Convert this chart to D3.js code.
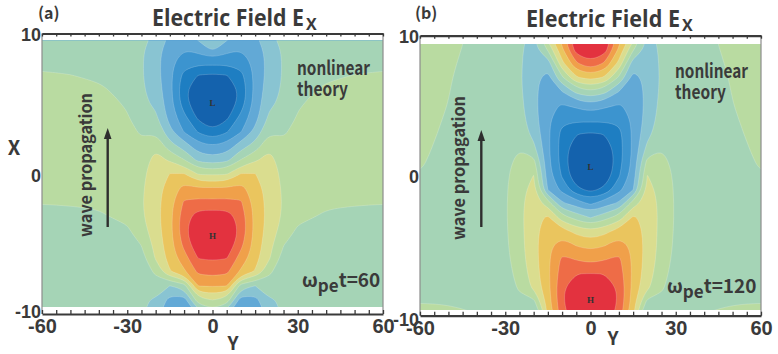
<!DOCTYPE html>
<html>
<head>
<meta charset="utf-8">
<script src="https://cdn.jsdelivr.net/npm/d3@7"></script>
<style>
  html, body { margin: 0; padding: 0; background: #fff; }
  svg { display: block; font-family: "Noto Sans CJK JP", "Open Sans", sans-serif; }
</style>
</head>
<body>
<svg id="chart" width="778" height="354"></svg>
<script>
// Sample grid: columns are Y >= 0 (the field is mirror-symmetric about Y = 0),
// rows are X from +10 down to -10. Values are in units of one contour step.
const yHalf = [0, 5, 10, 15, 20, 25, 30, 40, 50, 60, 70];
const xRows = [10, 9, 8, 7, 6, 5, 4, 3, 2, 1, 0, -1, -2, -3, -4, -5, -6, -7, -8, -9, -10];
const levels = [-5, -4, -3, -2, -1, 0, 1, 2, 3, 4, 5];
const bandColors = ["#1462ad", "#1e7ec2", "#3c94cf", "#62a9d6", "#89c4d2", "#a5d4b6",
                    "#b9dba1", "#dadd8f", "#eac55e", "#f0a04a", "#ee6c47", "#e3323f"];
const yTickValues = [-60, -30, 0, 30, 60];
const xTickValues = [-10, 0, 10];

// Panel (a): omega_pe t = 60, one column per entry of yHalf
const exA = [
  [-0.2, -1.64, -3.56, -5.2, -5.8, -6.3, -5.75, -4.9, -3.0, -1.6, 0.8, 3.06, 4.22, 5.5, 6.15, 5.95, 5.15, 4.34, 3.1, 1.0, -0.6],
  [-1.5, -2.5, -3.65, -5.05, -5.95, -6.0, -5.2, -4.1, -2.64, -1.31, 0.9, 3.0, 4.3, 5.45, 6.05, 5.9, 5.05, 4.2, 3.0, 0.6, -1.8],
  [-2.2, -2.9, -3.55, -4.3, -4.75, -4.5, -3.7, -3.05, -1.5, 0.02, 2.02, 3.3, 4.1, 4.55, 4.7, 4.3, 3.6, 2.8, -0.5, -2.5, -3.3],
  [-2.02, -2.55, -2.7, -2.75, -2.7, -2.6, -2.35, -1.7, -0.6, 0.85, 2.02, 2.4, 2.6, 2.7, 2.7, 2.6, 2.4, 1.9, -1.02, -2.35, -3.25],
  [-1.1, -1.5, -1.65, -1.6, -1.45, -1.2, -0.8, -0.15, 0.8, 1.3, 1.5, 1.6, 1.65, 1.65, 1.55, 1.35, 1.1, 0.2, -0.5, -1.1, -1.3],
  [-0.7, -0.85, -0.9, -0.9, -0.85, -0.75, -0.5, -0.15, 0.25, 0.55, 0.75, 0.85, 0.9, 0.85, 0.6, 0.05, -0.4, -0.7, -0.85, -0.9, -0.9],
  [-0.7, -0.7, -0.65, -0.5, -0.3, -0.12, 0.08, 0.35, 0.6, 0.75, 0.8, 0.7, 0.5, 0.2, -0.12, -0.4, -0.55, -0.65, -0.7, -0.7, -0.7],
  [-0.6, -0.55, -0.4, -0.15, 0.15, 0.45, 0.62, 0.7, 0.65, 0.55, 0.4, 0.25, 0.1, -0.08, -0.25, -0.4, -0.5, -0.55, -0.55, -0.55, -0.55],
  [-0.55, -0.45, -0.25, 0.02, 0.3, 0.5, 0.6, 0.65, 0.6, 0.5, 0.35, 0.2, 0.05, -0.12, -0.27, -0.38, -0.45, -0.5, -0.5, -0.5, -0.5],
  [-0.5, -0.4, -0.2, 0.1, 0.3, 0.45, 0.55, 0.6, 0.55, 0.45, 0.3, 0.15, 0.02, -0.1, -0.25, -0.35, -0.4, -0.45, -0.45, -0.45, -0.45],
  [-0.5, -0.4, -0.2, 0.1, 0.3, 0.45, 0.55, 0.6, 0.55, 0.45, 0.3, 0.15, 0.02, -0.1, -0.25, -0.35, -0.4, -0.45, -0.45, -0.45, -0.45]
];

// Panel (b): omega_pe t = 120
const exB = [
  [6.3, 5.8, 4.8, 2.32, -0.15, -2.47, -3.76, -5.1, -5.6, -6.05, -6.1, -5.3, -3.12, -1.02, 1.31, 2.71, 3.68, 5.02, 5.85, 6.15, 6.0],
  [6.0, 5.5, 3.8, 1.87, -0.75, -2.83, -3.82, -4.95, -5.7, -6.0, -5.8, -4.7, -2.4, -0.33, 1.73, 2.98, 3.98, 4.98, 6.0, 6.1, 5.9],
  [3.5, 2.8, 1.67, -0.2, -2.02, -3.1, -3.8, -4.3, -4.4, -4.4, -4.1, -3.3, -1.8, 0.5, 2.5, 3.55, 4.2, 4.5, 4.8, 4.8, 4.5],
  [1.6, 0.1, -1.6, -2.3, -2.6, -2.75, -2.8, -2.8, -2.8, -2.7, -2.5, -2.02, 0.6, 2.2, 2.6, 2.75, 2.8, 2.8, 2.7, 2.5, 2.2],
  [-1.2, -1.4, -1.6, -1.75, -1.75, -1.7, -1.6, -1.3, -0.75, 0.3, 1.02, 1.3, 1.5, 1.6, 1.65, 1.65, 1.6, 1.45, 1.2, -0.3, -1.8],
  [-0.8, -0.85, -0.85, -0.85, -0.8, -0.7, -0.55, -0.35, -0.05, 0.3, 0.55, 0.7, 0.75, 0.75, 0.7, 0.65, 0.55, 0.4, 0.15, -0.3, -0.8],
  [-0.5, -0.55, -0.6, -0.6, -0.6, -0.6, -0.55, -0.5, -0.4, -0.3, -0.2, -0.15, -0.12, -0.12, -0.15, -0.2, -0.3, -0.45, -0.6, -0.7, -0.7],
  [-0.1, -0.15, -0.22, -0.28, -0.33, -0.37, -0.4, -0.42, -0.44, -0.45, -0.45, -0.45, -0.44, -0.42, -0.4, -0.37, -0.33, -0.28, -0.2, -0.1, 0.02],
  [0.15, 0.12, 0.09, 0.05, 0.02, -0.02, -0.08, -0.13, -0.18, -0.22, -0.26, -0.3, -0.32, -0.34, -0.34, -0.32, -0.28, -0.22, -0.15, -0.03, 0.12],
  [0.3, 0.35, 0.4, 0.4, 0.38, 0.33, 0.28, 0.2, 0.13, 0.06, -0.02, -0.1, -0.15, -0.2, -0.22, -0.22, -0.2, -0.16, -0.1, -0.01, 0.08],
  [0.3, 0.35, 0.4, 0.4, 0.38, 0.33, 0.28, 0.2, 0.13, 0.06, -0.02, -0.1, -0.15, -0.2, -0.22, -0.22, -0.2, -0.16, -0.1, -0.01, 0.08]
];

// Positions (in X) of the minimum "L" and maximum "H" on the Y = 0 axis
const extremaA = [{ label: "L", x: 5.05 }, { label: "H", x: -4.45 }];
const extremaB = [{ label: "L", x: 0.6 }, { label: "H", x: -8.85 }];
const timeA = "60";
const timeB = "120";

const ink = "#3a3a3a";
const svg = d3.select("#chart");
const defs = svg.append("defs");

// full column list -70 ... 70 built by mirroring the half grid
const yFull = yHalf.slice(1).reverse().map(v => -v).concat(yHalf);

function buildGrid(cols) {
  const colsFull = cols.slice(1).reverse().concat(cols);
  const nx = colsFull.length, ny = xRows.length;
  const values = new Array(nx * ny);
  for (let j = 0; j < ny; j++)
    for (let i = 0; i < nx; i++) values[j * nx + i] = colsFull[i][j];
  return { nx, ny, values };
}

const panels = [
  { id: "a", field: exA, extrema: extremaA, time: timeA,
    left: 42, right: 383, top: 33.5, bottom: 314, xMax: 9.5, xMin: -9.5,
    tag: [38, 19], title: [152, 25.5, 152], nl: [297, 75, 95.5],
    wp: [91.5, 165], arrow: [107.7, 227, 128], omega: [302, 286.5],
    yLab: [233, 350], xLab: [14, 155], leftLabelX: 41, leftDy: [3, 8, 6.5] },
  { id: "b", field: exB, extrema: extremaB, time: timeB,
    left: 420, right: 761, top: 35.7, bottom: 315.7, xMax: 9.4, xMin: -9.6,
    tag: [415, 18.5], title: [526, 26.5, 154], nl: [675, 78, 98.5],
    wp: [465, 168], arrow: [481.3, 227, 130], omega: [667, 293],
    yLab: [613, 345], xLab: null, leftLabelX: 419, leftDy: [10, 6.5, 7] }
];

panels.forEach(drawPanel);

function drawPanel(cfg) {
  const x = d3.scaleLinear().domain([-60, 60]).range([cfg.left, cfg.right]);
  const y = d3.scaleLinear().domain([-10, 10]).range([cfg.bottom, cfg.top]);
  const g = svg.append("g");

  // clip to the sampled region
  const clipId = "clip-" + cfg.id;
  defs.append("clipPath").attr("id", clipId).append("rect")
    .attr("x", x(-60)).attr("y", y(cfg.xMax))
    .attr("width", x(60) - x(-60)).attr("height", y(cfg.xMin) - y(cfg.xMax));

  // filled contours of E_x, each ring drawn as a smooth closed spline
  const { nx, ny, values } = buildGrid(cfg.field);
  const colToY = d3.scaleLinear().domain(d3.range(nx)).range(yFull);
  const rowToX = d3.scaleLinear().domain([0, ny - 1]).range([xRows[0], xRows[ny - 1]]);
  const bands = d3.contours().size([nx, ny]).thresholds(levels)(values);
  const ringLine = d3.line().curve(d3.curveBasisClosed);
  const ringPath = ring => ringLine(ring.slice(0, -1)
    .map(([cx, cy]) => [x(colToY(cx - 0.5)), y(rowToX(cy - 0.5))]));

  const field = g.append("g").attr("clip-path", `url(#${clipId})`);
  field.append("rect")
    .attr("x", x(-60)).attr("y", y(cfg.xMax))
    .attr("width", x(60) - x(-60)).attr("height", y(cfg.xMin) - y(cfg.xMax))
    .attr("fill", bandColors[0]);
  field.selectAll("path.band").data(bands).join("path")
    .attr("class", "band")
    .attr("d", c => c.coordinates.map(poly => poly.map(ringPath).join("")).join(""))
    .attr("fill", (c, i) => bandColors[i + 1])
    .attr("fill-rule", "evenodd")
    .attr("stroke", "#ffffff").attr("stroke-opacity", 0.3).attr("stroke-width", 0.6);

  // extremum markers
  g.selectAll("text.ext").data(cfg.extrema).join("text")
    .attr("class", "ext")
    .attr("x", x(0)).attr("y", d => y(d.x)).attr("dy", "0.35em")
    .attr("text-anchor", "middle")
    .attr("font-family", "'Liberation Serif', serif").attr("font-weight", "bold")
    .attr("font-size", 9).attr("fill", "#333")
    .text(d => d.label);

  // frame: thin side lines, heavy top/bottom axes with inward ticks
  [cfg.left, cfg.right].forEach(px => {
    g.append("line").attr("x1", px).attr("x2", px)
      .attr("y1", cfg.top).attr("y2", cfg.bottom)
      .attr("stroke", "#8c8c8c").attr("stroke-width", 1.2);
  });
  const minorTicks = d3.range(-60, 61, 5);
  const topAxis = g.append("g").attr("transform", `translate(0,${cfg.top})`)
    .call(d3.axisBottom(x).tickValues(minorTicks).tickSize(3).tickSizeOuter(0).tickFormat(""));
  const botAxis = g.append("g").attr("transform", `translate(0,${cfg.bottom})`)
    .call(d3.axisTop(x).tickValues(minorTicks).tickSize(4).tickSizeOuter(0).tickFormat(""));
  [topAxis, botAxis].forEach(a => {
    a.select(".domain").attr("stroke", ink).attr("stroke-width", 2.2);
    a.selectAll(".tick line").attr("stroke", ink).attr("stroke-width", 1.3);
  });

  // bottom labels
  const botLabels = g.append("g").attr("transform", `translate(0,${cfg.bottom})`)
    .call(d3.axisBottom(x).tickValues(yTickValues).tickSize(0).tickFormat(d => String(d)));
  botLabels.select(".domain").remove();
  botLabels.selectAll("text")
    .attr("y", 19).attr("dy", null)
    .attr("font-family", null).attr("font-size", 20).attr("font-weight", 600).attr("fill", ink);

  // left labels
  const leftLabels = g.append("g").attr("transform", `translate(${cfg.leftLabelX},0)`)
    .call(d3.axisLeft(y).tickValues(xTickValues).tickSize(0).tickPadding(0).tickFormat(d => String(d)));
  leftLabels.select(".domain").remove();
  leftLabels.selectAll("text")
    .attr("dy", (d, i) => cfg.leftDy[i])
    .attr("font-family", null).attr("font-size", 18).attr("font-weight", 600).attr("fill", ink);

  // axis titles
  g.append("text").attr("x", cfg.yLab[0]).attr("y", cfg.yLab[1])
    .attr("text-anchor", "middle").attr("font-size", 19).attr("font-weight", 600)
    .attr("fill", ink).text("Y");
  if (cfg.xLab) {
    g.append("text").attr("x", cfg.xLab[0]).attr("y", cfg.xLab[1])
      .attr("text-anchor", "middle").attr("font-size", 20).attr("font-weight", 600)
      .attr("fill", ink).text("X");
  }

  // panel tag and title with subscript
  g.append("text").attr("x", cfg.tag[0]).attr("y", cfg.tag[1])
    .attr("font-size", 16).attr("font-weight", 700).attr("fill", ink)
    .text(`(${cfg.id})`);
  const title = g.append("text").attr("x", cfg.title[0]).attr("y", cfg.title[1])
    .attr("font-family", "'Open Sans', sans-serif")
    .attr("font-size", 24).attr("font-weight", 700).attr("fill", ink);
  title.append("tspan")
    .attr("textLength", cfg.title[2]).attr("lengthAdjust", "spacingAndGlyphs")
    .text("Electric Field E");
  title.append("tspan").attr("dx", 2).attr("dy", 4.5).attr("font-size", 16)
    .text("X");

  // "nonlinear theory"
  g.append("text").attr("x", cfg.nl[0]).attr("y", cfg.nl[1])
    .attr("font-size", 19).attr("font-weight", 600).attr("fill", ink)
    .attr("textLength", 73).attr("lengthAdjust", "spacingAndGlyphs")
    .text("nonlinear");
  g.append("text").attr("x", cfg.nl[0]).attr("y", cfg.nl[2])
    .attr("font-size", 19).attr("font-weight", 600).attr("fill", ink)
    .attr("textLength", 51).attr("lengthAdjust", "spacingAndGlyphs")
    .text("theory");

  // propagation arrow and its label
  const [ax, ay0, ay1] = cfg.arrow;
  g.append("line").attr("x1", ax).attr("x2", ax).attr("y1", ay0).attr("y2", ay1 + 8)
    .attr("stroke", "#2e2e2e").attr("stroke-width", 2.4);
  g.append("path")
    .attr("d", `M${ax},${ay1} L${ax - 3.8},${ay1 + 11} L${ax + 3.8},${ay1 + 11} Z`)
    .attr("fill", "#2e2e2e");
  g.append("text")
    .attr("transform", `translate(${cfg.wp[0]},${cfg.wp[1]}) rotate(-90)`)
    .attr("text-anchor", "middle").attr("font-size", 17).attr("font-weight", 600)
    .attr("fill", ink)
    .attr("textLength", 144).attr("lengthAdjust", "spacingAndGlyphs")
    .text("wave propagation");

  // time stamp  omega_pe t = ...
  const ts = g.append("text").attr("y", cfg.omega[1])
    .attr("font-size", 19).attr("font-weight", 600).attr("fill", ink);
  ts.append("tspan").attr("x", cfg.omega[0]).text("ω");
  ts.append("tspan").attr("dy", 5).attr("font-size", 17).text("pe");
  ts.append("tspan").attr("dy", -5).text("t=" + cfg.time);
}
</script>
</body>
</html>
